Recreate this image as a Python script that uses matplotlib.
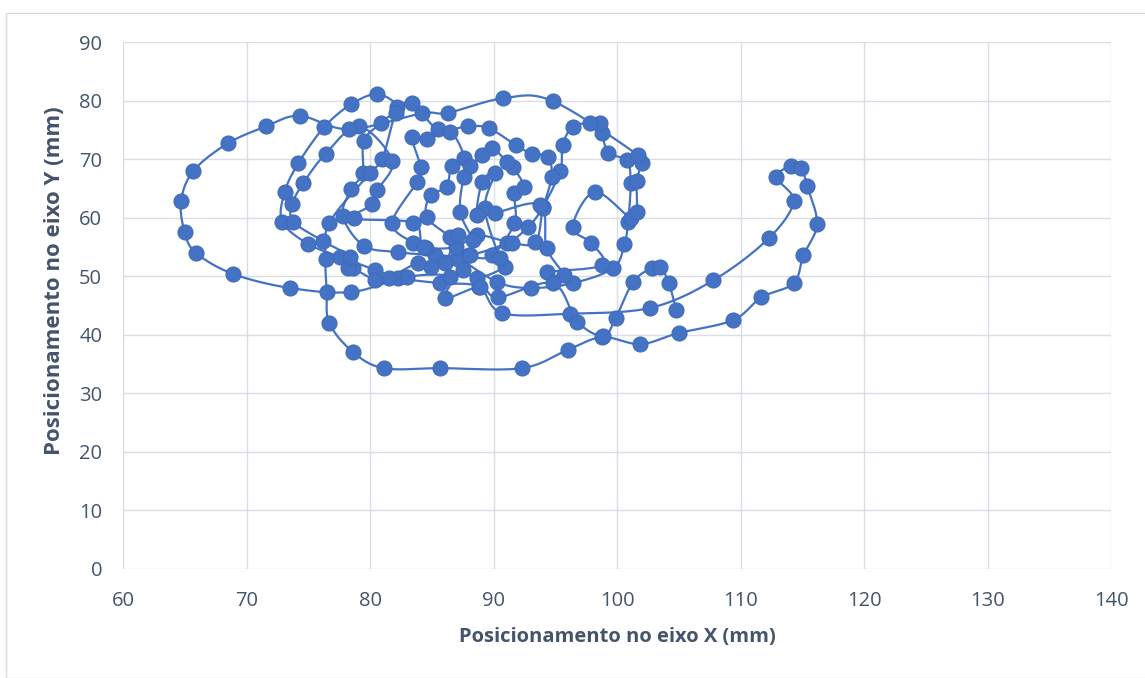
import numpy as np
import matplotlib
matplotlib.use("Agg")
import matplotlib.pyplot as plt
from matplotlib.patches import Rectangle

# Trajectory samples (mm), in recorded order
x_mm = [
    87.1, 90.3, 93.0, 96.4, 99.7, 100.6, 100.9, 101.1, 100.8, 99.3,
    98.8, 98.6, 97.8, 96.4, 95.6, 95.4, 94.0, 92.8, 91.1, 88.0,
    85.3, 82.3, 79.5, 77.8, 78.5, 79.4, 79.5, 80.9, 82.2, 80.6,
    78.5, 76.3, 74.2, 73.1, 72.9, 75.0, 77.6, 80.4, 82.3, 85.7,
    88.8, 90.7, 96.2, 102.7, 107.8, 112.3, 114.3, 112.9, 114.1, 114.9,
    115.4, 116.2, 115.1, 114.3, 111.7, 109.4, 105.0, 101.9, 98.8, 96.0,
    92.3, 85.7, 81.1, 78.6, 76.7, 76.5, 76.4, 76.7, 80.0, 81.0,
    82.1, 83.4, 85.5, 87.9, 89.6, 91.8, 93.1, 94.4, 94.7, 94.0,
    93.4, 91.5, 88.7, 87.0, 84.5, 83.5, 81.8, 83.8, 84.1, 83.4,
    84.6, 86.5, 87.6, 86.6, 86.2, 84.9, 84.6, 86.5, 88.1, 89.9,
    91.7, 91.7, 92.5, 91.6, 91.1, 89.9, 89.1, 88.1, 87.6, 87.3,
    88.3, 87.1, 86.1, 84.9, 83.9, 81.5, 80.4, 78.6, 78.2, 78.4,
    76.2, 73.8, 73.7, 74.6, 76.4, 79.1, 81.8, 80.6, 80.2, 78.7,
    83.5, 84.4, 87.5, 88.7, 90.9, 90.5, 89.3, 90.1, 89.1, 88.7,
    90.1, 93.8, 94.3, 95.7, 94.3, 98.8, 97.9, 96.4, 98.2, 101.1,
    101.6, 101.6, 102.0, 101.7, 94.8, 90.8, 86.3, 84.2, 78.3, 74.3,
    71.6, 68.5, 65.7, 64.7, 65.0, 65.9, 68.9, 73.5, 78.5, 83.0,
    86.5, 86.1, 88.9, 90.4, 94.8, 96.8, 98.9, 99.9, 101.3, 102.8,
    103.5, 104.2, 104.8,
]
y_mm = [
    53.3, 49.0, 48.0, 48.8, 51.4, 55.5, 59.3, 65.9, 69.8, 71.0,
    74.5, 76.2, 76.2, 75.5, 72.4, 68.0, 61.8, 58.4, 55.7, 53.6,
    53.6, 54.1, 55.2, 60.3, 64.9, 67.6, 73.1, 76.2, 78.9, 81.1,
    79.4, 75.5, 69.3, 64.4, 59.3, 55.5, 53.3, 51.1, 49.7, 48.8,
    48.2, 43.7, 43.6, 44.6, 49.3, 56.5, 62.8, 66.9, 68.8, 68.5,
    65.4, 58.9, 53.6, 48.8, 46.4, 42.5, 40.3, 38.4, 39.6, 37.4,
    34.3, 34.3, 34.3, 37.1, 42.0, 47.3, 52.9, 59.1, 67.6, 70.0,
    77.8, 79.6, 75.1, 75.6, 75.3, 72.4, 70.9, 70.4, 66.9, 61.6,
    55.8, 55.7, 57.0, 55.0, 54.8, 55.7, 59.1, 66.1, 68.6, 73.8,
    73.4, 74.6, 70.2, 68.8, 65.2, 63.9, 60.1, 56.7, 53.6, 53.6,
    59.1, 64.2, 65.2, 68.6, 69.5, 71.9, 70.7, 68.8, 67.0, 61.0,
    56.2, 57.0, 52.3, 51.6, 52.3, 49.7, 49.4, 51.4, 51.4, 53.3,
    56.0, 59.3, 62.3, 65.9, 70.9, 75.6, 69.7, 64.7, 62.3, 59.9,
    59.1, 55.0, 51.1, 49.7, 51.6, 53.1, 61.6, 67.6, 66.1, 60.5,
    60.8, 62.2, 54.8, 50.2, 50.7, 51.9, 55.7, 58.4, 64.4, 59.9,
    61.0, 66.3, 69.3, 70.7, 79.9, 80.4, 77.9, 77.8, 75.1, 77.4,
    75.6, 72.7, 68.0, 62.8, 57.5, 54.0, 50.4, 48.0, 47.3, 49.9,
    49.9, 46.3, 48.2, 46.4, 48.8, 42.2, 39.8, 42.9, 49.0, 51.4,
    51.6, 48.8, 44.2,
]

x_ticks = [60, 70, 80, 90, 100, 110, 120, 130, 140]
y_ticks = [0, 10, 20, 30, 40, 50, 60, 70, 80, 90]

BLUE = "#4472C4"
TEXT = "#44546A"
GRID = "#D9DEE6"

fig = plt.figure(figsize=(11.45, 6.78), dpi=100)
fig.patch.set_facecolor("white")
fig.patches.append(Rectangle((6 / 1145, 0), 1.0, 1 - 13 / 678, transform=fig.transFigure,
                             fill=False, edgecolor="#D9D9D9", linewidth=1.0))

ax = fig.add_axes([123 / 1145, 1 - 569 / 678, (1111 - 123) / 1145, (569 - 42) / 678])
ax.set_xlim(x_ticks[0], x_ticks[-1])
ax.set_ylim(y_ticks[0], y_ticks[-1])
ax.set_xticks(x_ticks)
ax.set_yticks(y_ticks)
ax.grid(True, color=GRID, linewidth=1.0)
ax.set_axisbelow(True)
for s in ax.spines.values():
    s.set_visible(False)
ax.tick_params(length=0, labelsize=14.5, labelcolor=TEXT)
ax.tick_params(axis="x", pad=16)
ax.tick_params(axis="y", pad=15)
for lab in ax.get_xticklabels() + ax.get_yticklabels():
    lab.set_fontfamily("Open Sans")


def smooth_path(xs, ys, n=16):
    """Smoothed connecting line (Catmull-Rom in screen space, like a smoothed scatter line)."""
    pts = ax.transData.transform(np.column_stack([xs, ys]))
    ext = np.vstack([pts[0], pts, pts[-1]])
    t = np.linspace(0, 1, n, endpoint=False)[:, None]
    segs = []
    for i in range(1, len(ext) - 2):
        p0, p1, p2, p3 = ext[i - 1], ext[i], ext[i + 1], ext[i + 2]
        c1 = p1 + (p2 - p0) / 6.0
        c2 = p2 - (p3 - p1) / 6.0
        b = ((1 - t) ** 3) * p1 + 3 * ((1 - t) ** 2) * t * c1 + 3 * (1 - t) * t ** 2 * c2 + t ** 3 * p2
        segs.append(b)
    segs.append(pts[-1][None, :])
    curve = np.vstack(segs)
    return ax.transData.inverted().transform(curve).T


cx, cy = smooth_path(x_mm, y_mm)
ax.plot(cx, cy, color=BLUE, linewidth=1.6, zorder=2, solid_capstyle="round")
ax.plot(x_mm, y_mm, linestyle="none", marker="o", markersize=10.8,
        markerfacecolor=BLUE, markeredgecolor="#3F6BBA", markeredgewidth=0.8, zorder=3)

ax.set_xlabel("Posicionamento no eixo X (mm)", fontsize=14.5, fontweight="bold",
              color=TEXT, family="Open Sans")
ax.set_ylabel("Posicionamento no eixo Y (mm)", fontsize=16, fontweight="bold",
              color=TEXT, family="Open Sans")
ax.xaxis.set_label_coords(0.5, (569 - 637) / 527)
ax.xaxis.label.set_va("center")
ax.yaxis.set_label_coords((55 - 123) / 988, (569 - 281) / 527)
ax.yaxis.label.set_va("center")

fig.savefig("out.png", dpi=100, facecolor="white")
